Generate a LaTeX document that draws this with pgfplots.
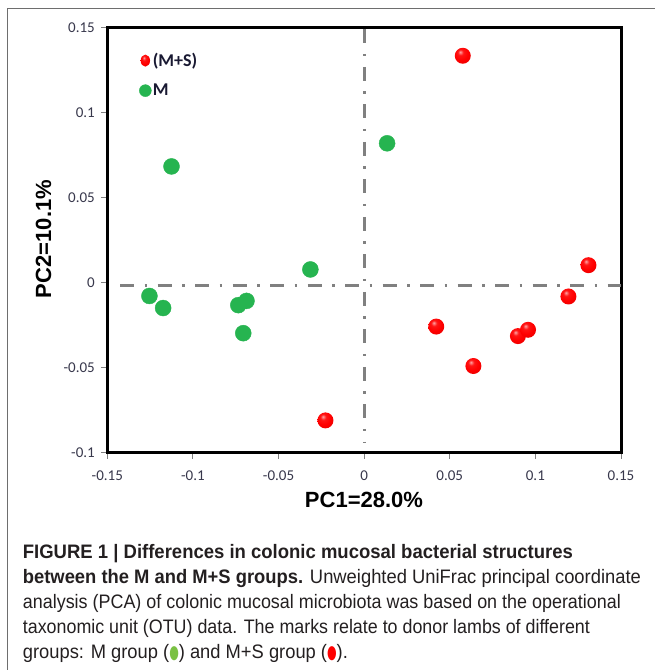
\documentclass[border=0pt]{standalone}
\usepackage{pgfplots}
\pgfplotsset{compat=1.18}
\usepackage{fontspec}
\usepackage{graphicx}
\setmainfont{Liberation Sans}
\newfontfamily\calib{Carlito}
\newfontfamily\dejavu{DejaVu Sans}
\definecolor{mgreen}{RGB}{38,180,80}
\definecolor{tickcol}{RGB}{55,55,75}
\definecolor{legcol}{RGB}{25,25,50}
\definecolor{dashgray}{RGB}{128,128,128}
\definecolor{framegray}{RGB}{110,110,110}
\definecolor{capgreen}{RGB}{122,193,67}
\definecolor{captext}{RGB}{35,31,32}
\newcommand\capfs{\fontsize{19.5}{20}\selectfont}

\pgfdeclareradialshading{myredball}{\pgfpoint{-8bp}{12bp}}{%
  color(0bp)=(red!35!white); color(9bp)=(red!92!white); color(22bp)=(red);
  color(40bp)=(red!88!black); color(52bp)=(red!62!black); color(70bp)=(red!50!black)}
\pgfdeclareplotmark{redball}{%
  \pgfpathcircle{\pgfpointorigin}{\pgfplotmarksize}%
  \pgfshadepath{myredball}{0}%
  \pgfusepath{}}

\pgfplotstableread{
x y
-0.1254 -0.0078
-0.1174 -0.0149
-0.0735 -0.0132
-0.0687 -0.0107
-0.0706 -0.0297
-0.0314 0.0078
-0.1125 0.0684
0.0134 0.0820
}\greendata

\pgfplotstableread{
x y
-0.0226 -0.0810
0.0421 -0.0258
0.0638 -0.0490
0.0898 -0.0314
0.0957 -0.0277
0.1193 -0.0081
0.1310 0.0103
0.0576 0.1335
}\reddata

\begin{document}
\begin{tikzpicture}[x=1pt,y=1pt]
\path[use as bounding box] (0,0) rectangle (655,-670);
\draw[framegray, line width=1.5pt] (7.3,-670) -- (7.3,-8.3) -- (655,-8.3);
\begin{axis}[
  at={(107.3pt,-452.7pt)}, anchor=south west,
  scale only axis, width=513.7pt, height=425pt,
  xmin=-0.15, xmax=0.15, ymin=-0.1, ymax=0.15,
  xtick={-0.15,-0.1,-0.05,0,0.05,0.1,0.15},
  xticklabels={-0.15,-0.1,-0.05,0,0.05,0.1,0.15},
  ytick={-0.1,-0.05,0,0.05,0.1,0.15},
  yticklabels={-0.1,-0.05,0,0.05,0.1,0.15},
  xtick pos=bottom, ytick pos=left,
  tick align=outside, major tick length=6pt,
  tick style={dashgray, line width=1pt},
  axis line style={black, line width=3pt},
  tick label style={font=\calib\fontsize{15}{18}\selectfont, text=tickcol},
  xticklabel style={yshift=-9pt},
  yticklabel style={xshift=-3pt},
  clip=false,
  legend style={draw=none, fill=none, at={(0.062,0.944)}, anchor=north west,
    font=\calib\bfseries\fontsize{18}{20}\selectfont, text=legcol,
    row sep=13pt, inner sep=0pt, nodes={inner sep=1.5pt}},
  legend cell align=left,
  legend image code/.code={\draw[#1] plot coordinates {(0pt,0pt)};},
]
\addlegendimage{only marks, mark=redball, mark size=6pt, mark options={xscale=0.78}}
\addlegendentry{(M+S)}
\addlegendimage{only marks, mark=*, mark size=6pt, mark options={fill=mgreen, draw=mgreen}}
\addlegendentry{M}

\addplot[dashgray, line width=2.7pt, dash pattern=on 14pt off 10.5pt on 2.5pt off 10.5pt, forget plot]
  coordinates {(-0.1425,-0.0015) (0.15,-0.0015)};
\addplot[dashgray, line width=2.7pt, dash pattern=on 14pt off 10.5pt on 2.5pt off 10.5pt, forget plot]
  coordinates {(0,0.149) (0,-0.094)};

\addplot[only marks, mark=*, mark size=8pt, mark options={fill=mgreen, draw=mgreen}, forget plot]
  table[x=x, y=y] {\greendata};
\addplot[only marks, mark=redball, mark size=8pt, forget plot]
  table[x=x, y=y] {\reddata};
\end{axis}

\node[font=\bfseries\fontsize{22}{24}\selectfont] at (364,-500) {PC1=28.0\%};
\node[font=\bfseries\fontsize{22}{24}\selectfont, rotate=90] at (43.5,-239) {PC2=10.1\%};

\node[anchor=base west, inner sep=0pt, text=captext] at (22.7,-558)
  {\resizebox{550pt}{\height}{\capfs\bfseries FIGURE 1 | Differences in colonic mucosal bacterial structures}};
\node[anchor=base west, inner sep=0pt, text=captext] at (22.7,-583)
  {\resizebox{618pt}{\height}{\capfs\textbf{between the M and M+S groups.} Unweighted UniFrac principal coordinate}};
\node[anchor=base west, inner sep=0pt, text=captext] at (22.7,-608)
  {\resizebox{598pt}{\height}{\capfs analysis (PCA) of colonic mucosal microbiota was based on the operational}};
\node[anchor=base west, inner sep=0pt, text=captext] at (22.7,-633)
  {\resizebox{567pt}{\height}{\capfs taxonomic unit (OTU) data. The marks relate to donor lambs of different}};
\node[anchor=base west, inner sep=0pt, text=captext] at (22.7,-658)
  {\resizebox{325pt}{\height}{\capfs groups: M group (\textcolor{capgreen}{\dejavu\scalebox{0.6}[0.95]{●}}) and M+S group (\textcolor{red}{\dejavu\scalebox{0.6}[0.95]{●}}).}};
\end{tikzpicture}
\end{document}
